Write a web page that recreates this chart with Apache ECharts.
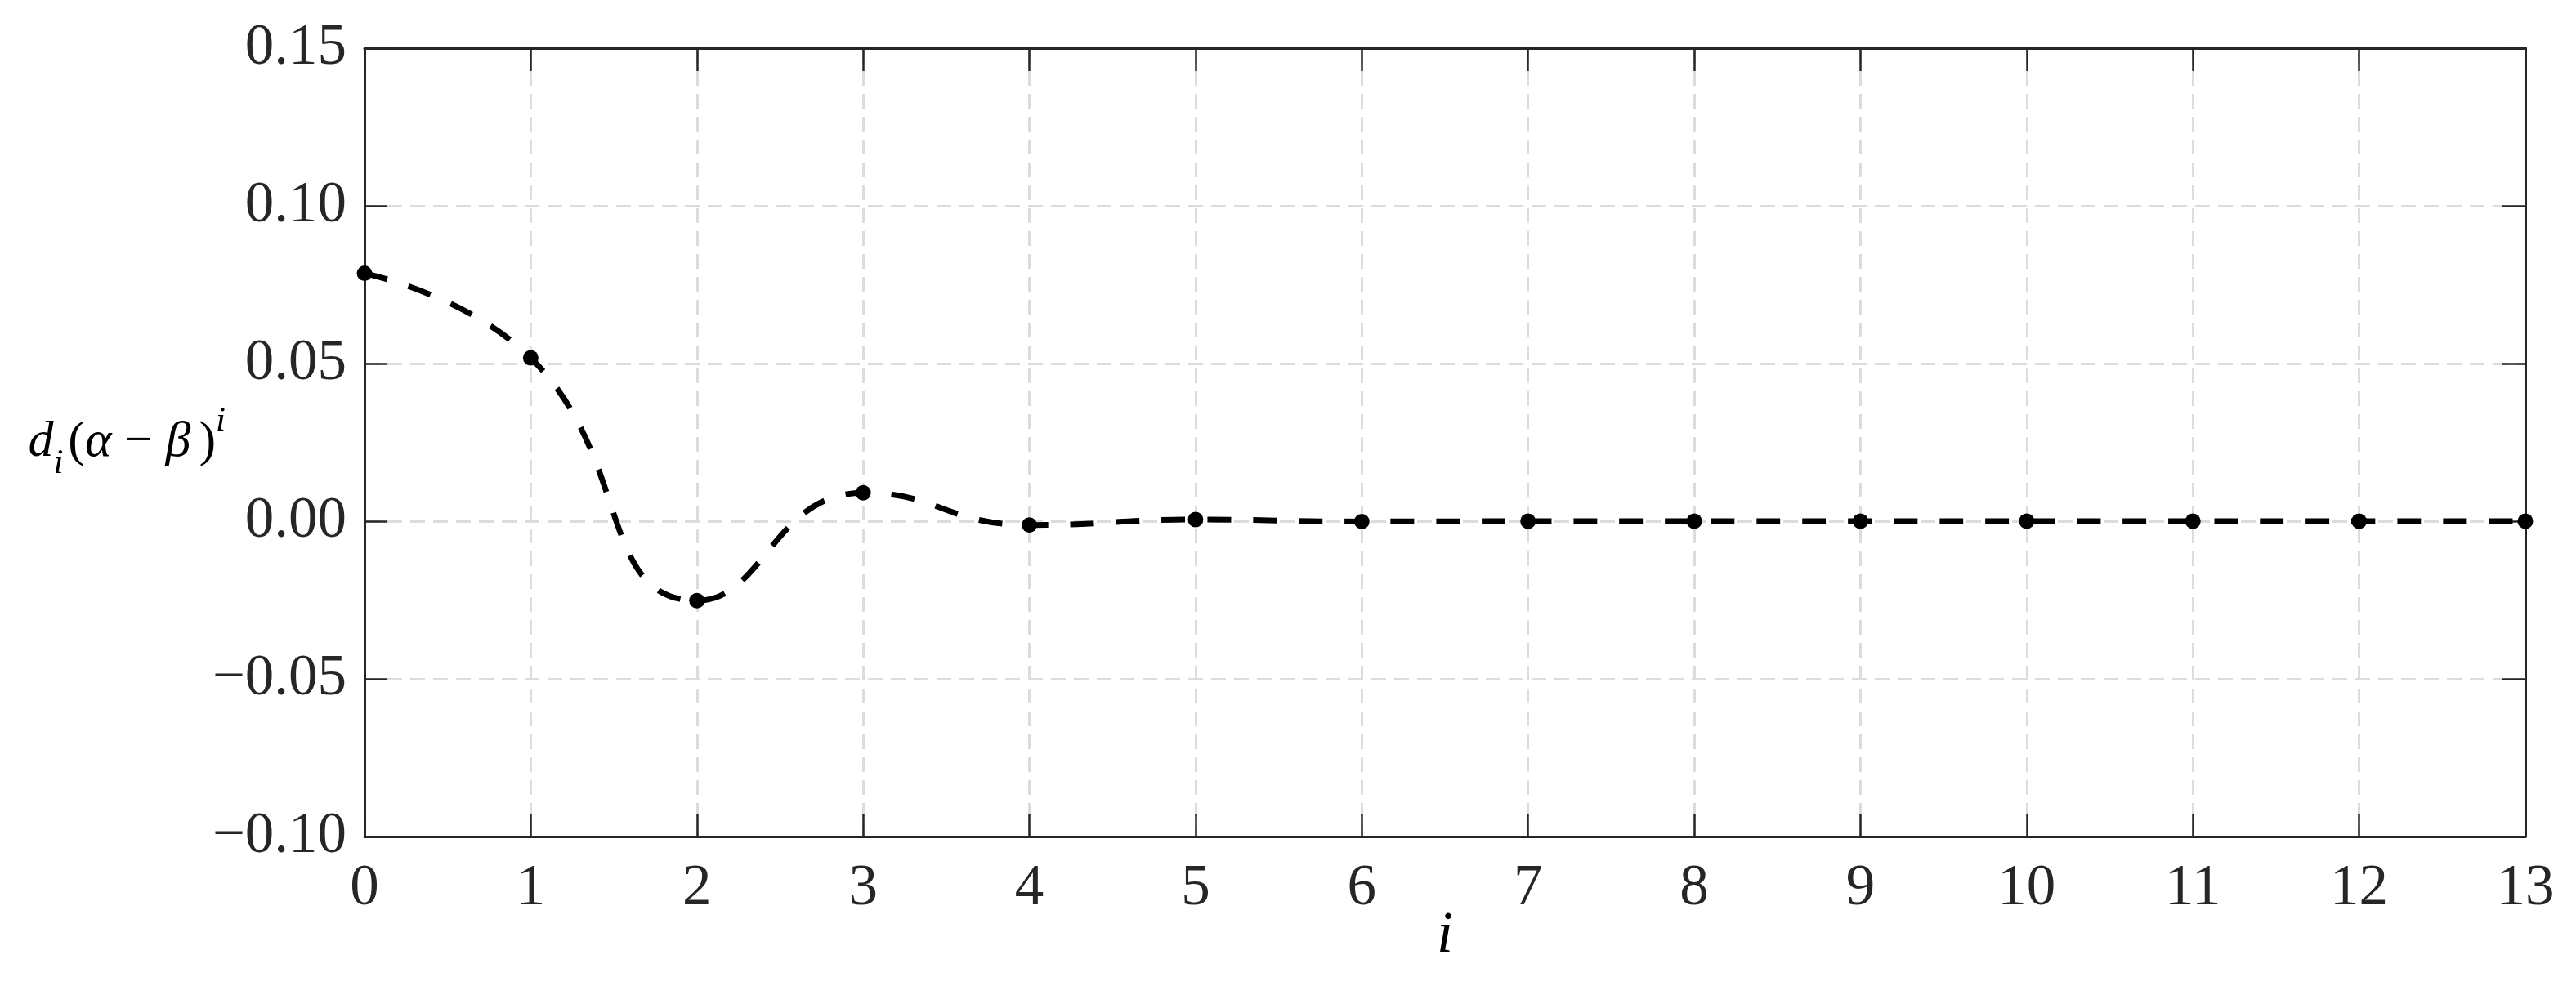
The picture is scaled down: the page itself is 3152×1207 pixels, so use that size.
<!DOCTYPE html>
<html>
<head>
<meta charset="utf-8">
<script src="https://cdn.jsdelivr.net/npm/echarts@6/dist/echarts.min.js"></script>
<style>
    html, body { margin: 0; padding: 0; background: #fff; }
    #chart { width: 3152px; height: 1207px; }
</style>
</head>
<body>
<div id="chart"></div>
<script>
    const iValues = [0, 1, 2, 3, 4, 5, 6, 7, 8, 9, 10, 11, 12, 13];
    const dValues = [0.0786, 0.0518, -0.0252, 0.0090, -0.0012, 0.0005, -0.0001, 0, 0, 0, 0, 0, 0, 0];
    const xRange = [0, 13, 1];           // min, max, interval
    const yRange = [-0.1, 0.15, 0.05];

    const serif = "'Liberation Serif', 'Times New Roman', serif";
    const ink = '#262626';

    let points = iValues.map((v, k) => [v, dValues[k]]);

    // 刻度线朝内，四周都有
    let tick = { show: true, inside: true, length: 28, lineStyle: { color: ink, width: 2.5 } };
    let line = { show: true, onZero: false, lineStyle: { color: ink, width: 3 } };
    let grid = { show: true, lineStyle: { color: '#dcdcdc', width: 3, type: [18, 10] } };

    // 上下标用 padding 在行内上下移动
    let it = { fontFamily: serif, fontSize: 62, fontStyle: 'italic', lineHeight: 62, color: '#000' };
    let up = { fontFamily: serif, fontSize: 62, lineHeight: 62, color: '#000' };

    let option = {
        animation: false,
        backgroundColor: '#fff',
        grid: { left: 446, right: 62, top: 59, bottom: 183, outerBoundsMode: 'none' },
        xAxis: [{
            type: 'value',
            min: xRange[0], max: xRange[1], interval: xRange[2],
            axisLine: line,
            axisTick: tick,
            splitLine: grid,
            axisLabel: { margin: 29, color: ink, fontFamily: serif, fontSize: 71 },
            name: 'i',
            nameLocation: 'middle',
            nameGap: 86,
            nameMoveOverlap: false,
            nameTextStyle: { color: '#000', fontFamily: serif, fontSize: 72, fontStyle: 'italic' }
        }, {
            type: 'value', position: 'top',
            min: xRange[0], max: xRange[1], interval: xRange[2],
            axisLine: line, axisTick: tick,
            splitLine: { show: false }, axisLabel: { show: false }
        }],
        yAxis: [{
            type: 'value',
            min: yRange[0], max: yRange[1], interval: yRange[2],
            axisLine: line,
            axisTick: tick,
            splitLine: grid,
            axisLabel: {
                margin: 22, color: ink, fontFamily: serif, fontSize: 71,
                formatter: v => (v < 0 ? '\u2212' : '') + Math.abs(v).toFixed(2)
            },
            name: '{it|d}{sub|i}{lp|(}{it|α}{n| − }{it|β}{rp|)}{sup|i}',
            nameLocation: 'middle',
            nameRotate: 0,
            nameGap: 170,
            nameMoveOverlap: false,
            nameTextStyle: {
                color: '#000', fontFamily: serif, fontSize: 62,
                rich: {
                    it: it,
                    n: up,
                    lp: Object.assign({}, up, { padding: [0, 0, 0, 6] }),
                    rp: Object.assign({}, up, { padding: [0, 0, 0, 10] }),
                    sub: { fontFamily: serif, fontSize: 43, fontStyle: 'italic', lineHeight: 43, padding: [53, 0, 0, 0], color: '#000' },
                    sup: { fontFamily: serif, fontSize: 43, fontStyle: 'italic', lineHeight: 43, padding: [0, 0, 51, 0], color: '#000' }
                }
            }
        }, {
            type: 'value', position: 'right',
            min: yRange[0], max: yRange[1], interval: yRange[2],
            axisLine: line, axisTick: tick,
            splitLine: { show: false }, axisLabel: { show: false }
        }],
        series: [{
            type: 'line',
            xAxisIndex: 0,
            yAxisIndex: 0,
            data: points,
            smooth: 0.5,
            symbol: 'circle',
            symbolSize: 19,
            itemStyle: { color: '#000' },
            lineStyle: { color: '#000', width: 7, type: [29, 27] },
            z: 5
        }]
    };

    var chart = echarts.init(document.getElementById('chart'));
    chart.setOption(option);
</script>
</body>
</html>
